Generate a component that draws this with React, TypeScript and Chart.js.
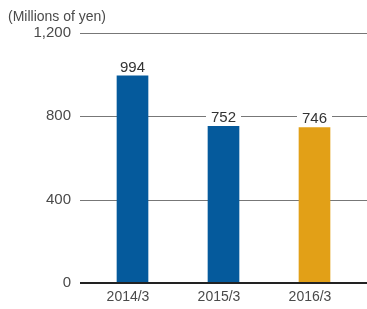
import React, { useEffect, useRef } from "react";
import { Chart, registerables } from "chart.js";

Chart.register(...registerables);

const categories = ["2014/3", "2015/3", "2016/3"];
const values = [994, 752, 746];
const barColors = ["#055A9C", "#055A9C", "#E2A017"];
const unitLabel = "(Millions of yen)";
const yMin = 0;
const yMax = 1200;
const yStep = 400;

const FONT = "'Liberation Sans', Arial, Helvetica, sans-serif";

const decorPlugin = {
  id: "decor",
  beforeDatasetsDraw(chart: any) {
    const { ctx } = chart;
    const y = chart.scales.y;
    ctx.save();
    ctx.strokeStyle = "#777777";
    ctx.lineWidth = 1;
    y.ticks.forEach((t: any) => {
      if (t.value === 0) return;
      const py = Math.round(y.getPixelForValue(t.value)) + 0.5;
      ctx.beginPath();
      ctx.moveTo(80, py);
      ctx.lineTo(chart.width, py);
      ctx.stroke();
    });
    ctx.restore();
  },
  afterDatasetsDraw(chart: any) {
    const { ctx } = chart;
    const y = chart.scales.y;
    ctx.save();
    // zero baseline
    const py0 = Math.round(y.getPixelForValue(0));
    ctx.strokeStyle = "#222222";
    ctx.lineWidth = 2;
    ctx.beginPath();
    ctx.moveTo(80, py0);
    ctx.lineTo(chart.width, py0);
    ctx.stroke();
    // value labels
    ctx.font = `15px ${FONT}`;
    ctx.textAlign = "center";
    ctx.textBaseline = "bottom";
    const meta = chart.getDatasetMeta(0);
    meta.data.forEach((el: any, i: number) => {
      const txt = String(values[i]);
      const w = ctx.measureText(txt).width;
      const by = el.y - 1;
      ctx.fillStyle = "#ffffff";
      ctx.fillRect(el.x - w / 2 - 5, by - 15, w + 10, 14);
      ctx.fillStyle = "#333333";
      ctx.fillText(txt, el.x, by);
    });
    // unit label
    ctx.font = `14px ${FONT}`;
    ctx.textAlign = "left";
    ctx.textBaseline = "middle";
    ctx.fillStyle = "#4a4a4a";
    ctx.fillText(unitLabel, 8, 17);
    ctx.restore();
  },
};

export default function App() {
  const ref = useRef<HTMLCanvasElement>(null);
  useEffect(() => {
    document.body.style.margin = "0";
    const chart = new Chart(ref.current!, {
      type: "bar",
      data: {
        labels: categories,
        datasets: [
          {
            data: values,
            backgroundColor: barColors,
            barThickness: 31,
            borderWidth: 0,
          },
        ],
      },
      options: {
        responsive: false,
        animation: false,
        layout: { padding: { top: 33, right: 7, left: 0, bottom: 0 } },
        plugins: { legend: { display: false }, tooltip: { enabled: false } },
        scales: {
          x: {
            grid: { display: false, drawTicks: false },
            border: { display: false },
            ticks: {
              color: "#4a4a4a",
              font: { family: FONT, size: 14 },
              padding: 6,
              labelOffset: -4.5,
              maxRotation: 0,
            },
            afterFit(scale: any) {
              scale.height = 26;
            },
          },
          y: {
            min: yMin,
            max: yMax,
            grid: { display: false, drawTicks: false },
            border: { display: false },
            ticks: {
              stepSize: yStep,
              color: "#4a4a4a",
              font: { family: FONT, size: 15 },
              padding: 16,
              callback: (v: any) => Number(v).toLocaleString("en-US"),
            },
            afterFit(scale: any) {
              scale.width = 87;
            },
          },
        },
      },
      plugins: [decorPlugin],
    });
    return () => chart.destroy();
  }, []);
  return <canvas ref={ref} width={367} height={309} style={{ display: "block" }} />;
}
